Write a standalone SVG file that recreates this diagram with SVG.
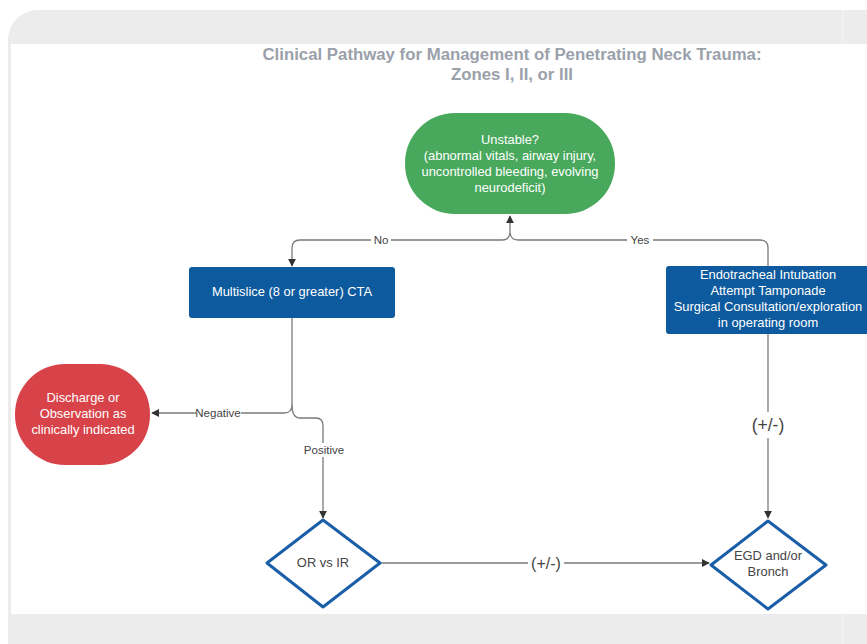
<svg xmlns="http://www.w3.org/2000/svg" width="867" height="644" viewBox="0 0 867 644">
<defs>
<style>
.t{font-family:"Liberation Sans",Arial,sans-serif;text-anchor:middle}
.nt{font-size:12.9px;fill:#ffffff}
.dt{font-size:12.9px;fill:#444}
.lb{font-size:11.5px;fill:#444}
.pm{font-size:16px;fill:#444}
.ln{fill:none;stroke:#7a7a7a;stroke-width:1.3}
.box{fill:#0d5a9e}
.dia{fill:#ffffff;stroke:#1a5ea8;stroke-width:3;stroke-linejoin:round}
.lbg{fill:#ffffff}
</style>
<marker id="ah" viewBox="0 0 10 10" refX="9" refY="5" markerWidth="8" markerHeight="8" markerUnits="userSpaceOnUse" orient="auto">
<path d="M0,0 L10,5 L0,10 Z" fill="#333"/>
</marker>
</defs>
<!-- background -->
<rect x="8" y="10" width="900" height="680" rx="30" fill="#ececec"/>
<rect x="11" y="44" width="856" height="570" fill="#ffffff"/>
<line x1="843" y1="10" x2="843" y2="44" stroke="#f4f4f4" stroke-width="1"/>
<line x1="843" y1="614" x2="843" y2="644" stroke="#f4f4f4" stroke-width="1"/>

<g id="title">
<text class="t" x="512" y="60" font-size="16" font-weight="bold" fill="#9aa1aa" textLength="499" lengthAdjust="spacingAndGlyphs">Clinical Pathway for Management of Penetrating Neck Trauma:</text>
<text class="t" x="512" y="80" font-size="16" font-weight="bold" fill="#9aa1aa" textLength="122" lengthAdjust="spacingAndGlyphs">Zones I, II, or III</text>
</g>

<g id="connectors">
<!-- No/Yes branch -->
<path class="ln" d="M768,266 V248 Q768,240 760,240 H518 Q511,240 510,233 V216" marker-end="url(#ah)"/>
<path class="ln" d="M510,233 Q509,240 502,240 H300 Q292,240 292,248 V266" marker-end="url(#ah)"/>
<rect class="lbg" x="371" y="233" width="20" height="14"/>
<text class="t lb" x="381" y="244">No</text>
<rect class="lbg" x="627" y="233" width="26" height="14"/>
<text class="t lb" x="640" y="244">Yes</text>
<!-- Multislice to Negative/Positive -->
<path class="ln" d="M292,318 V405 Q292,413 284,413 H152" marker-end="url(#ah)"/>
<path class="ln" d="M292,405 Q292,418 300,418 H316 Q323,418 323,426 V518" marker-end="url(#ah)"/>
<rect class="lbg" x="196" y="406" width="45" height="14"/>
<text class="t lb" x="218" y="417">Negative</text>
<rect class="lbg" x="302" y="443" width="44" height="14"/>
<text class="t lb" x="324" y="454">Positive</text>
<!-- OR vs IR to EGD -->
<path class="ln" d="M380,563 H709" marker-end="url(#ah)"/>
<rect class="lbg" x="528" y="552" width="36" height="22"/>
<text class="t pm" x="546" y="569">(+/-)</text>
<!-- Endotracheal to EGD -->
<path class="ln" d="M768,334 V518" marker-end="url(#ah)"/>
<rect class="lbg" x="748" y="412" width="40" height="26"/>
<text class="t" x="768" y="431" font-size="17.5" fill="#444">(+/-)</text>
</g>

<g id="unstable">
<rect x="405" y="113" width="210" height="101" rx="50" fill="#48a85c"/>
<text class="t nt" x="510" y="144">Unstable?</text>
<text class="t nt" x="510" y="160">(abnormal vitals, airway injury,</text>
<text class="t nt" x="510" y="176">uncontrolled bleeding, evolving</text>
<text class="t nt" x="510" y="192">neurodeficit)</text>
</g>

<g id="multislice">
<rect class="box" x="189" y="267" width="206" height="51" rx="3"/>
<text class="t nt" x="292" y="296">Multislice (8 or greater) CTA</text>
</g>

<g id="endotracheal">
<rect class="box" x="666" y="266" width="205" height="68" rx="3"/>
<text class="t nt" x="768" y="279">Endotracheal Intubation</text>
<text class="t nt" x="768" y="295">Attempt Tamponade</text>
<text class="t nt" x="768" y="311">Surgical Consultation/exploration</text>
<text class="t nt" x="768" y="327">in operating room</text>
</g>

<g id="discharge">
<rect x="15" y="364" width="135" height="101" rx="50" ry="50" fill="#d84349"/>
<text class="t nt" x="83" y="402">Discharge or</text>
<text class="t nt" x="83" y="418">Observation as</text>
<text class="t nt" x="83" y="434">clinically indicated</text>
</g>

<g id="orvsir">
<path class="dia" d="M323,520 L380,563 L323,607 L267,563 Z"/>
<text class="t dt" x="323" y="567">OR vs IR</text>
</g>

<g id="egd">
<path class="dia" d="M768,521 L826,565 L768,609 L711,565 Z"/>
<text class="t dt" x="768" y="560">EGD and/or</text>
<text class="t dt" x="768" y="576">Bronch</text>
</g>
</svg>
